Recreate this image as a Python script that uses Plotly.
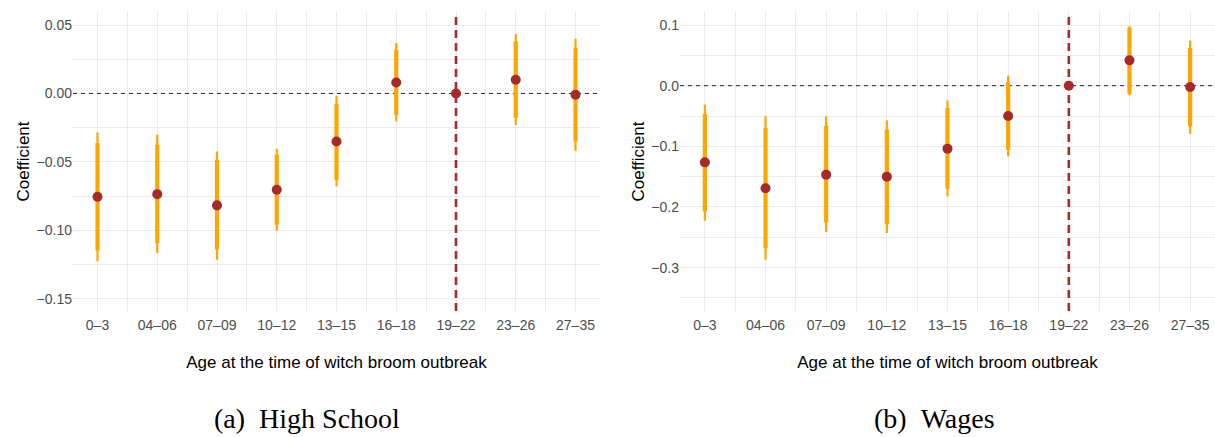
import plotly.graph_objects as go

categories = ["0\u20133", "04\u201306", "07\u201309", "10\u201312", "13\u201315",
              "16\u201318", "19\u201322", "23\u201326", "27\u201335"]
reference_cat = "19\u201322"

# Panel (a) High School
hs_est = [-0.0755, -0.0736, -0.0818, -0.0704, -0.0351, 0.0080, 0.0, 0.0100, -0.0010]
hs_lo95 = [-0.1227, -0.1167, -0.1215, -0.1003, -0.0680, -0.0205, 0.0, -0.0231, -0.0419]
hs_hi95 = [-0.0285, -0.0302, -0.0424, -0.0404, -0.0017, 0.0368, 0.0, 0.0434, 0.0399]
hs_lo90 = [-0.1147, -0.1094, -0.1142, -0.0960, -0.0631, -0.0156, 0.0, -0.0180, -0.0351]
hs_hi90 = [-0.0363, -0.0375, -0.0485, -0.0448, -0.0075, 0.0319, 0.0, 0.0380, 0.0331]

# Panel (b) Wages
wg_est = [-0.1264, -0.1692, -0.1467, -0.1500, -0.1038, -0.0500, 0.0, 0.0418, -0.0022]
wg_lo95 = [-0.2225, -0.2868, -0.2412, -0.2429, -0.1824, -0.1165, 0.0, -0.0160, -0.0791]
wg_hi95 = [-0.0313, -0.0505, -0.0505, -0.0571, -0.0242, 0.0165, 0.0, 0.0980, 0.0742]
wg_lo90 = [-0.2071, -0.2676, -0.2253, -0.2280, -0.1698, -0.1055, 0.0, -0.0135, -0.0670]
wg_hi90 = [-0.0467, -0.0698, -0.0659, -0.0725, -0.0368, 0.0055, 0.0, 0.0960, 0.0621]

x_title = "Age at the time of witch broom outbreak"
y_title = "Coefficient"
captions = ["(a)\u00a0\u00a0High School", "(b)\u00a0\u00a0Wages"]

# axis ranges
x_range = [-0.41, 8.41]
y_range_a = [-0.159, 0.0595]
y_range_b = [-0.3715, 0.1215]

ORANGE = "#FFA500"
BROWN = "#A52A2A"
SANS = "Liberation Sans, Arial, sans-serif"
SERIF = "Liberation Serif, Times New Roman, serif"

xpos = list(range(len(categories)))
ref_idx = categories.index(reference_cat)
fig = go.Figure()


def add_panel(est, lo95, hi95, lo90, hi90, xa, ya, yrng):
    # reference lines (drawn first so they sit under the marks)
    fig.add_trace(go.Scatter(
        x=x_range, y=[0, 0], mode="lines", xaxis=xa, yaxis=ya,
        line=dict(color="rgba(0,0,0,0.85)", width=1, dash="4px,4px"),
        showlegend=False, hoverinfo="skip"))
    fig.add_trace(go.Scatter(
        x=[ref_idx, ref_idx], y=yrng, mode="lines", xaxis=xa, yaxis=ya,
        line=dict(color=BROWN, width=2.6, dash="8px,5px"),
        showlegend=False, hoverinfo="skip"))
    for lo, hi, th in [(lo95, hi95, 2.2), (lo90, hi90, 4.2)]:
        fig.add_trace(go.Scatter(
            x=xpos, y=est, mode="markers", xaxis=xa, yaxis=ya,
            marker=dict(size=1, color="rgba(0,0,0,0)"),
            error_y=dict(type="data", symmetric=False,
                         array=[h - e for h, e in zip(hi, est)],
                         arrayminus=[e - l for e, l in zip(est, lo)],
                         color=ORANGE, thickness=th, width=0),
            showlegend=False, hoverinfo="skip"))
    fig.add_trace(go.Scatter(
        x=xpos, y=est, mode="markers", xaxis=xa, yaxis=ya,
        marker=dict(size=10, color=BROWN),
        showlegend=False))


add_panel(hs_est, hs_lo95, hs_hi95, hs_lo90, hs_hi90, "x", "y", y_range_a)
add_panel(wg_est, wg_lo95, wg_hi95, wg_lo90, wg_hi90, "x2", "y2", y_range_b)

xdom_a = [73 / 1215, 600 / 1215]
xdom_b = [680 / 1215, 1.0]
ydom = [126 / 437, 425 / 437]

grid = "#EBEBEB"
common_x = dict(tickmode="array", tickvals=xpos, ticktext=categories,
                showgrid=True, gridcolor=grid, gridwidth=1.3, zeroline=False,
                showline=False, ticks="", range=x_range, ticklabelstandoff=4,
                tickfont=dict(family=SANS, size=14, color="#4D4D4D"),
                minor=dict(tickmode="linear", tick0=0.5, dtick=1, showgrid=True,
                           gridcolor=grid, gridwidth=0.7),
                title=dict(text=x_title, font=dict(family=SANS, size=17, color="black"),
                           standoff=24),
                automargin=False, fixedrange=True)
common_y = dict(showgrid=True, gridcolor=grid, gridwidth=1.3, zeroline=False,
                showline=False, ticks="",
                tickfont=dict(family=SANS, size=14, color="#4D4D4D"),
                title=dict(text=y_title, font=dict(family=SANS, size=17, color="black"),
                           standoff=2),
                automargin=False, fixedrange=True)

fig.update_layout(
    width=1215, height=437,
    margin=dict(l=0, r=0, t=0, b=0),
    paper_bgcolor="white", plot_bgcolor="white",
    xaxis=dict(domain=xdom_a, anchor="y", **common_x),
    xaxis2=dict(domain=xdom_b, anchor="y2", **common_x),
    yaxis=dict(domain=ydom, anchor="x", range=y_range_a,
               tickmode="linear", tick0=0, dtick=0.05, tickformat=".2f",
               minor=dict(tickmode="linear", tick0=0.025, dtick=0.05, showgrid=True,
                          gridcolor=grid, gridwidth=0.7),
               **common_y),
    yaxis2=dict(domain=ydom, anchor="x2", range=y_range_b,
                tickmode="linear", tick0=0, dtick=0.1, tickformat=".1f",
                minor=dict(tickmode="linear", tick0=0.05, dtick=0.1, showgrid=True,
                           gridcolor=grid, gridwidth=0.7),
                **common_y),
)

for cap, cx in zip(captions, [306.7 / 1215, 934 / 1215]):
    fig.add_annotation(text=cap, xref="paper", yref="paper", x=cx, y=(437 - 418) / 437,
                       xanchor="center", yanchor="middle", showarrow=False,
                       font=dict(family=SERIF, size=28, color="black"))

fig.write_html("out.html")
